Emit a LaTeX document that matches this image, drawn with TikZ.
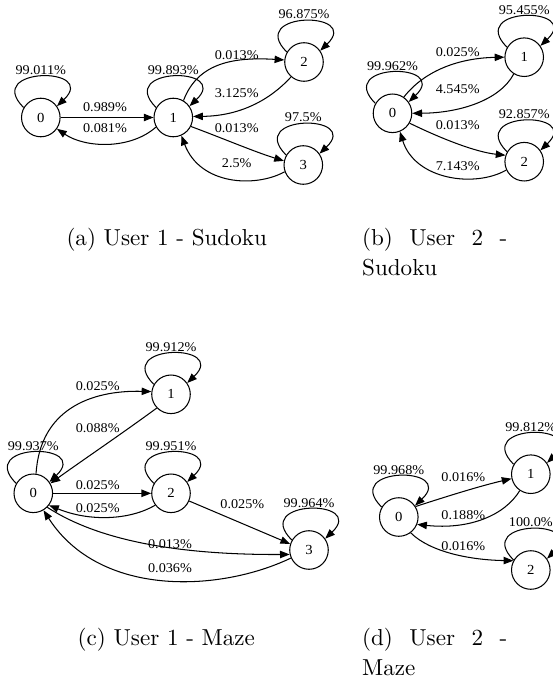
\documentclass[tikz,border=0pt]{standalone}
\usepackage{fontspec}
\newfontfamily\lblfont{Liberation Serif}[FakeStretch=1.06]
\usetikzlibrary{arrows.meta}
% self transition drawn above a state
\newcommand\sloop[1]{\draw[arc] (#1.150) .. controls +(-41,-41) and +(42,-40) .. (#1.35);}
\begin{document}
\begin{tikzpicture}[x=0.4329pt,y=-0.4329pt,
  stnode/.style={circle,draw,line width=0.45pt,minimum size=16.7pt,inner sep=0pt,
    font=\lblfont\fontsize{6}{7}\selectfont},
  lbl/.style={inner sep=0pt,font=\lblfont\fontsize{5.8}{6.5}\selectfont},
  arc/.style={draw,line width=0.45pt,-{Triangle[length=4.2pt,width=3.2pt]}},
  captext/.style={inner sep=0pt,font=\fontsize{10}{12.7}\selectfont}]

\useasboundingbox (0,0) rectangle (553,684);

% ---------- (a) User 1 - Sudoku ----------
\node[stnode] (a0) at (40.8,117.5) {0};
\node[stnode] (a1) at (173.3,117.5) {1};
\node[stnode] (a2) at (304,62) {2};
\node[stnode] (a3) at (303.3,165) {3};
\sloop{a0} \sloop{a1} \sloop{a2} \sloop{a3}
\draw[arc] (a0) -- (a1);
\draw[arc] (a1.209) .. controls (130,150) and (85,148) .. (a0.-35);
\draw[arc] (a1.59) .. controls (198,62) and (235,57) .. (a2.174);
\draw[arc] (a2.229) .. controls (270,100) and (240,116) .. (a1.3);
\draw[arc] (a1.-27) .. controls (222,138) and (255,152) .. (a3.168);
\draw[arc] (a3.200) .. controls (255,188) and (200,185) .. (a1.-66);
\node[lbl] (la00) at (40.8,70) {99.011\%};
\node[lbl] (la11) at (173.3,70) {99.893\%};
\node[lbl] (la22) at (304,14.5) {96.875\%};
\node[lbl] (la33) at (303.3,117.5) {97.5\%};
\node[lbl] (la01) at (105,107.5) {0.989\%};
\node[lbl] (la10) at (105,128) {0.081\%};
\node[lbl] (la12) at (236.7,55) {0.013\%};
\node[lbl] (la21) at (236.7,92.7) {3.125\%};
\node[lbl] (la13) at (236.7,127.7) {0.013\%};
\node[lbl] (la31) at (236.7,163) {2.5\%};

% ---------- (b) User 2 - Sudoku ----------
\node[stnode] (b0) at (392.5,113.3) {0};
\node[stnode] (b1) at (524.2,57.2) {1};
\node[stnode] (b2) at (524.2,161.7) {2};
\sloop{b0} \sloop{b1} \sloop{b2}
\draw[arc] (b0.55) .. controls (425,70) and (460,58) .. (b1.180);
\draw[arc] (b1.238) .. controls (500,100) and (460,113) .. (b0.0);
\draw[arc] (b0.-30) .. controls (440,138) and (475,152) .. (b2.161);
\draw[arc] (b2.205) .. controls (475,188) and (415,180) .. (b0.-68);
\node[lbl] (lb00) at (392.5,66.3) {99.962\%};
\node[lbl] (lb11) at (524.2,10) {95.455\%};
\node[lbl] (lb22) at (524.2,114.5) {92.857\%};
\node[lbl] (lb01) at (457.7,51.7) {0.025\%};
\node[lbl] (lb10) at (457.7,89.3) {4.545\%};
\node[lbl] (lb02) at (457.7,125) {0.013\%};
\node[lbl] (lb20) at (457.7,165.7) {7.143\%};

% ---------- (c) User 1 - Maze ----------
\node[stnode] (c0) at (33.3,493.3) {0};
\node[stnode] (c1) at (171,394.3) {1};
\node[stnode] (c2) at (171,493.3) {2};
\node[stnode] (c3) at (309,550) {3};
\sloop{c0} \sloop{c1} \sloop{c2} \sloop{c3}
\draw[arc] (c0.82) .. controls (40,410) and (90,390) .. (c1.172);
\draw[arc] (c1.224) .. controls (120,435) and (80,462) .. (c0.30);
\draw[arc] (c0) -- (c2);
\draw[arc] (c2.217) .. controls (130,520) and (90,522) .. (c0.-37);
\draw[arc] (c2.-23) -- (c3.162);
\draw[arc] (c0.-45) .. controls (90,535) and (160,555) .. (c3.193);
\draw[arc] (c3.204) .. controls (220,592) and (100,598) .. (c0.-59);
\node[lbl] (lc00) at (33.3,446) {99.937\%};
\node[lbl] (lc11) at (171,347) {99.912\%};
\node[lbl] (lc22) at (171,446) {99.951\%};
\node[lbl] (lc33) at (309,503) {99.964\%};
\node[lbl] (lc01) at (97.7,386) {0.025\%};
\node[lbl] (lc10) at (97.7,428.3) {0.088\%};
\node[lbl] (lc02) at (97.7,485) {0.025\%};
\node[lbl] (lc20) at (97.7,508.3) {0.025\%};
\node[lbl] (lc23) at (242.3,504) {0.025\%};
\node[lbl] (lc03) at (170,544) {0.013\%};
\node[lbl] (lc30) at (170,568.3) {0.036\%};

% ---------- (d) User 2 - Maze ----------
\node[stnode] (d0) at (398.8,517) {0};
\node[stnode] (d1) at (530.8,474.2) {1};
\node[stnode] (d2) at (530.8,570) {2};
\sloop{d0} \sloop{d1} \sloop{d2}
\draw[arc] (d0.32) .. controls (448,496) and (480,486) .. (d1.193);
\draw[arc] (d1.236) .. controls (505,515) and (470,530) .. (d0.-22);
\draw[arc] (d0.-53) .. controls (430,552) and (470,560) .. (d2.152);
\node[lbl] (ld00) at (398.8,470) {99.968\%};
\node[lbl] (ld11) at (530.8,427) {99.812\%};
\node[lbl] (ld22) at (530.8,522) {100.0\%};
\node[lbl] (ld01) at (463.3,477.3) {0.016\%};
\node[lbl] (ld10) at (463.3,515) {0.188\%};
\node[lbl] (ld02) at (463.3,546) {0.016\%};

% ---------- captions ----------
\node[captext,anchor=base] (capa) at (166.7,245.7) {(a) User 1 - Sudoku};
\node[captext,anchor=base west] (capb) at (361.7,245.7)
  {\parbox[t]{62.8pt}{\sloppy (b) User 2 -\linebreak Sudoku}};
\node[captext,anchor=base] (capc) at (166.3,645.7) {(c) User 1 - Maze};
\node[captext,anchor=base west] (capd) at (361.7,645.7)
  {\parbox[t]{62.8pt}{\sloppy (d) User 2 -\linebreak Maze}};
\end{tikzpicture}
\end{document}
